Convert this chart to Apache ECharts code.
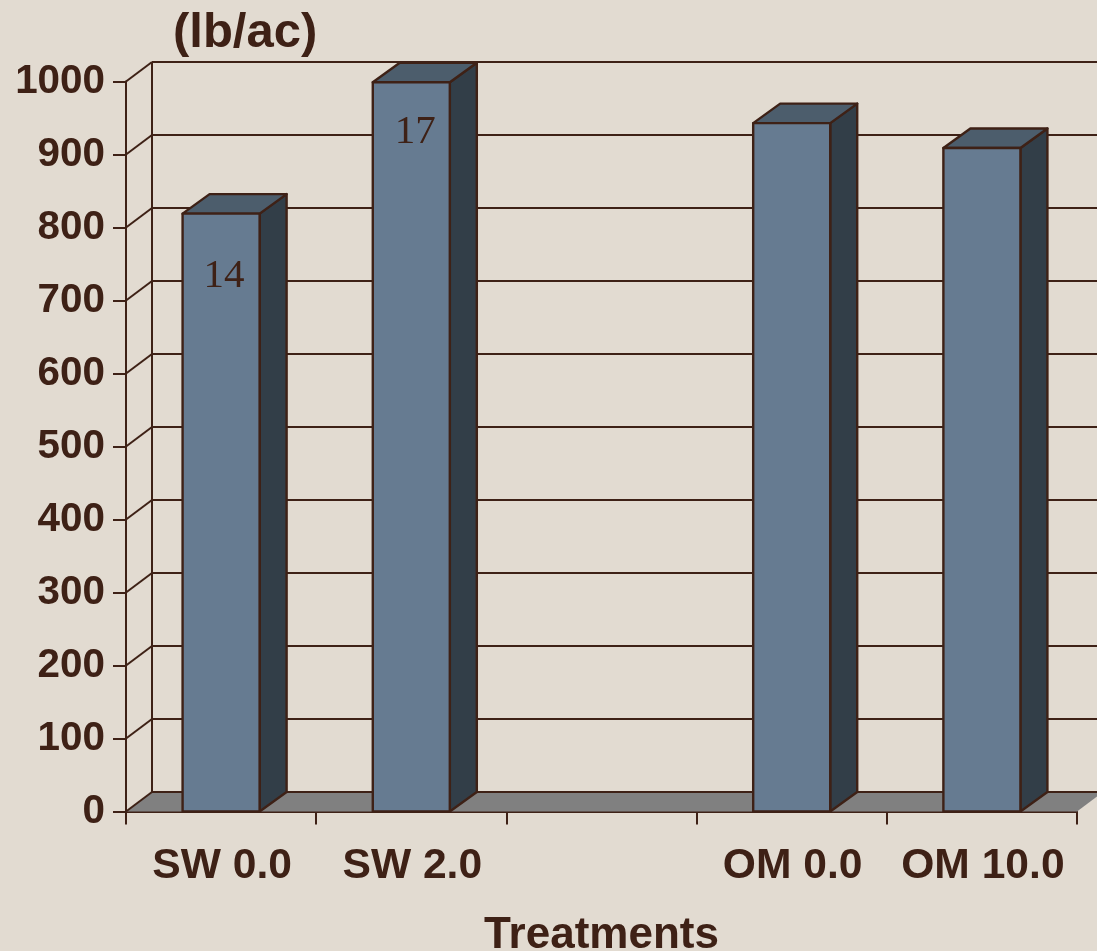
<!DOCTYPE html>
<html>
<head>
<meta charset="utf-8">
<style>
  html, body { margin: 0; padding: 0; background: #e2dbd1; }
  #chart { width: 1097px; height: 951px; }
</style>
</head>
<body>
<div id="chart"></div>
<script src="https://cdn.jsdelivr.net/npm/echarts@6/dist/echarts.min.js"></script>
<script>
const categories = ['SW 0.0', 'SW 2.0', '', 'OM 0.0', 'OM 10.0'];
const yieldValues = [819, 999, null, 943, 909];
const barLabels = ['14', '17', '', '', ''];
const wallTicks = [0, 100, 200, 300, 400, 500, 600, 700, 800, 900, 1000];

const ink = '#3e2116';
const depthX = 26;    // wall depth of the fake 3d box
const depthY = 19.5;
const barDepthX = 27;
// where the hand placed numbers sit below the bar top
const labelShift = { 0: [3, 63], 1: [4, 50] };

function renderWall(params, api) {
  const sys = params.coordSys;
  const y = api.coord([0, api.value(1)])[1];
  return {
    type: 'group',
    children: [
      { type: 'line', shape: { x1: sys.x, y1: y, x2: sys.x + depthX, y2: y - depthY }, style: { stroke: ink, lineWidth: 2 } },
      { type: 'line', shape: { x1: sys.x + depthX, y1: y - depthY, x2: sys.x + sys.width + depthX, y2: y - depthY }, style: { stroke: ink, lineWidth: 2 } }
    ]
  };
}

function renderFloor(params, api) {
  const sys = params.coordSys;
  const y = api.coord([0, 0])[1];
  return {
    type: 'group',
    children: [
      {
        type: 'polygon',
        shape: { points: [[sys.x, y], [sys.x + depthX, y - depthY], [sys.x + sys.width + depthX, y - depthY], [sys.x + sys.width, y]] },
        style: { fill: '#808080' }
      },
      { type: 'line', shape: { x1: sys.x + depthX, y1: y - depthY, x2: sys.x + depthX, y2: sys.y - depthY }, style: { stroke: ink, lineWidth: 2 } }
    ]
  };
}

function renderBar(params, api) {
  const v = api.value(1);
  if (isNaN(v)) return;
  const i = api.value(0);
  const top = api.coord([i, v]);
  const base = api.coord([i, 0]);
  const w = api.size([1, 0])[0] * 0.405;
  const l = top[0] - w / 2;
  const r = top[0] + w / 2;
  const edge = { stroke: ink, lineWidth: 2.4, lineJoin: 'round' };
  const children = [
    {
      type: 'polygon',
      shape: { points: [[r, top[1]], [r + barDepthX, top[1] - depthY], [r + barDepthX, base[1] - depthY], [r, base[1]]] },
      style: Object.assign({ fill: '#323e48' }, edge)
    },
    {
      type: 'polygon',
      shape: { points: [[l, top[1]], [l + barDepthX, top[1] - depthY], [r + barDepthX, top[1] - depthY], [r, top[1]]] },
      style: Object.assign({ fill: '#4c5d6c' }, edge)
    },
    {
      type: 'rect',
      shape: { x: l, y: top[1], width: w, height: base[1] - top[1] },
      style: Object.assign({ fill: '#667b91' }, edge)
    }
  ];
  if (barLabels[i]) {
    const s = labelShift[i];
    children.push({
      type: 'text',
      x: top[0] + s[0],
      y: top[1] + s[1],
      style: {
        text: barLabels[i],
        fill: ink,
        font: '41px "Liberation Serif"',
        textAlign: 'center',
        textVerticalAlign: 'middle'
      }
    });
  }
  return { type: 'group', children: children };
}

const chart = echarts.init(document.getElementById('chart'));
chart.setOption({
  backgroundColor: '#e2dbd1',
  animation: false,
  title: {
    text: '(lb/ac)',
    left: 168,
    top: 4,
    textStyle: { color: ink, fontFamily: 'Liberation Sans', fontWeight: 'bold', fontSize: 49 }
  },
  grid: { left: 126, top: 81.5, width: 951, height: 730, outerBoundsMode: 'none' },
  xAxis: {
    type: 'category',
    data: categories,
    name: 'Treatments',
    nameLocation: 'middle',
    nameGap: 102,
    nameTextStyle: { color: ink, fontFamily: 'Liberation Sans', fontWeight: 'bold', fontSize: 44 },
    axisLine: { lineStyle: { color: ink, width: 2 } },
    axisTick: { show: true, length: 13, lineStyle: { color: ink, width: 2 } },
    axisLabel: { interval: 0, margin: 33, padding: [0, 0, 0, 2], color: ink, fontFamily: 'Liberation Sans', fontWeight: 'bold', fontSize: 42.6 },
    splitLine: { show: false }
  },
  yAxis: {
    type: 'value',
    min: 0,
    max: 1000,
    interval: 100,
    axisLine: { show: true, lineStyle: { color: ink, width: 2 } },
    axisTick: { show: true, length: 13, lineStyle: { color: ink, width: 2 } },
    axisLabel: { margin: 21, padding: [8, 0, 0, 0], formatter: v => String(v), color: ink, fontFamily: 'Liberation Sans', fontWeight: 'bold', fontSize: 40.4 },
    splitLine: { show: false }
  },
  series: [
    { type: 'custom', z: 1, silent: true, renderItem: renderFloor, data: [[0, 0]] },
    { type: 'custom', z: 1, silent: true, renderItem: renderWall, data: wallTicks.map(t => [0, t]) },
    { type: 'custom', z: 3, renderItem: renderBar, data: yieldValues.map((v, i) => [i, v]) }
  ]
});
window.addEventListener('resize', chart.resize);
</script>
</body>
</html>
